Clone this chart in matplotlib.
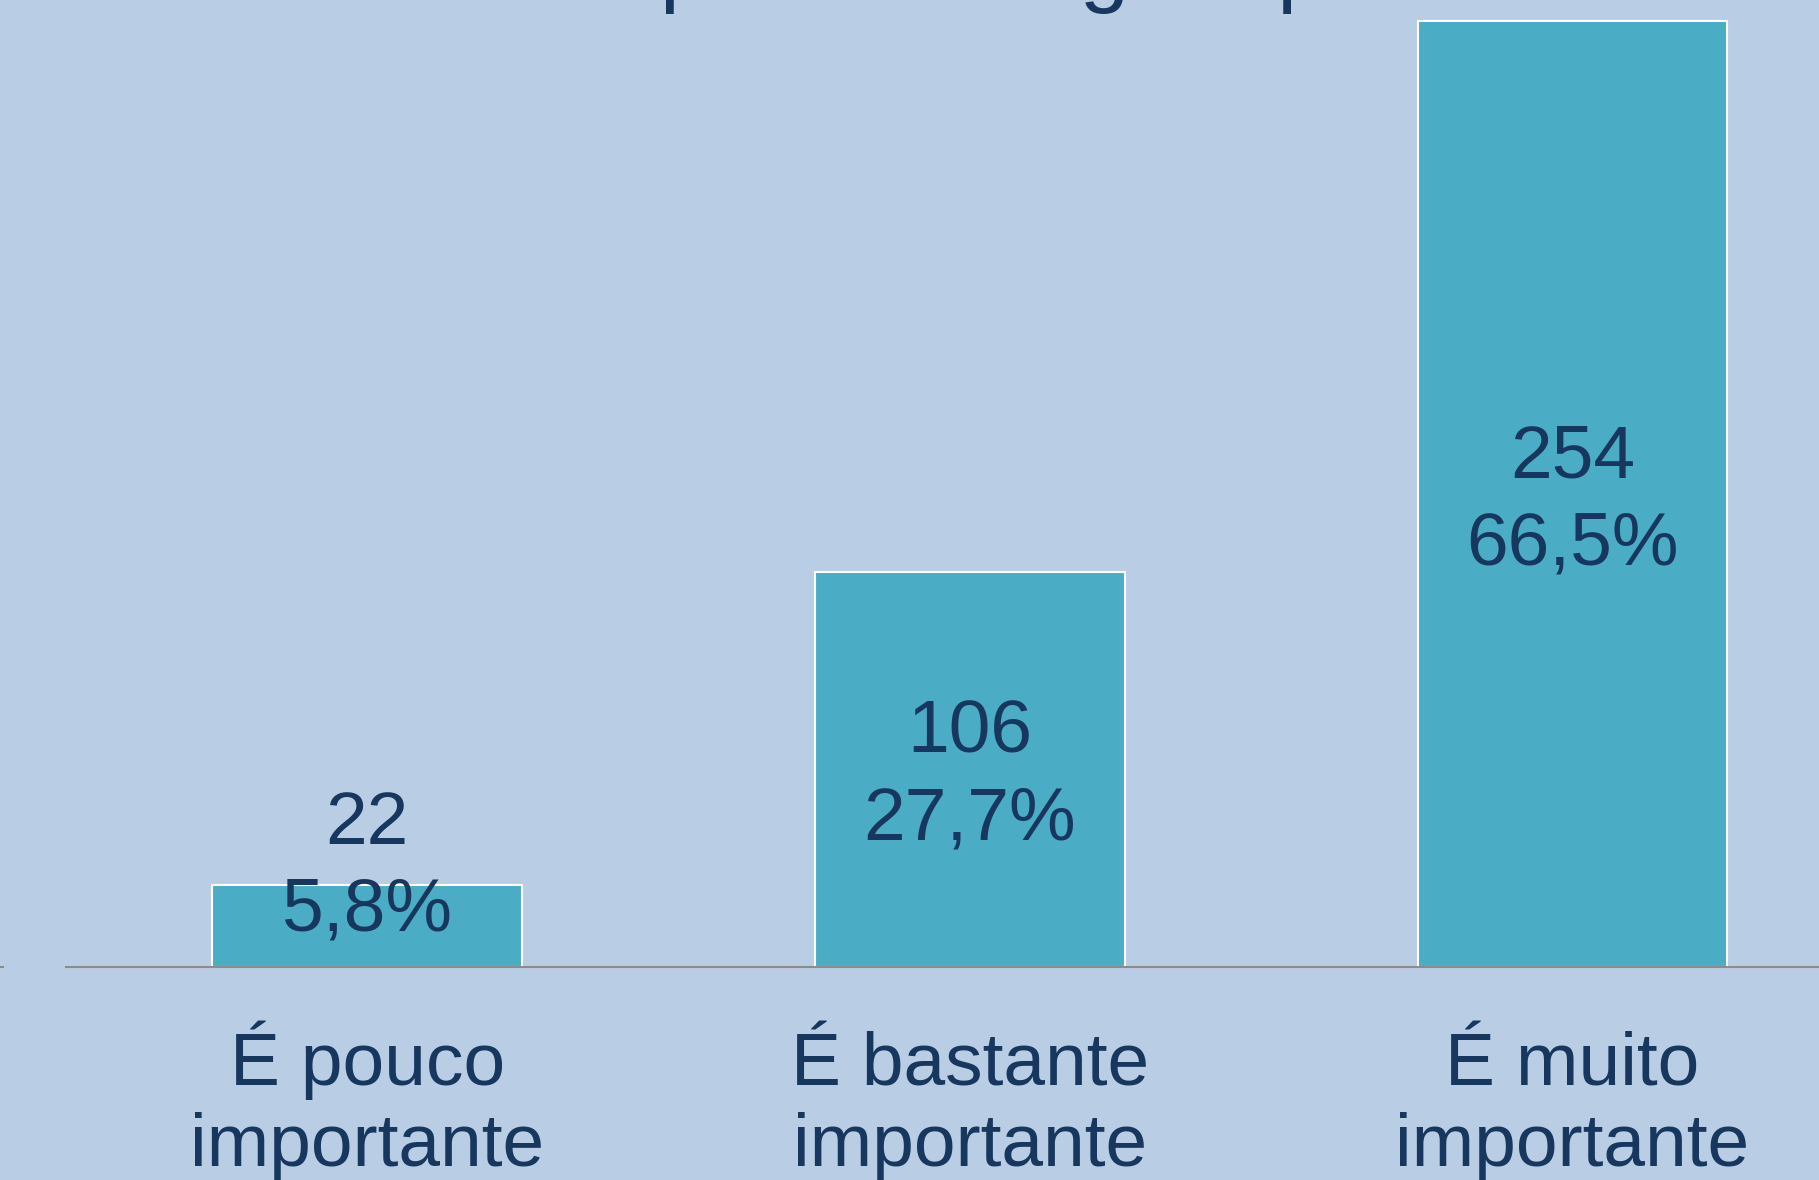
import matplotlib
matplotlib.use("Agg")
import matplotlib.pyplot as plt
from matplotlib.transforms import ScaledTranslation

categories = ["É pouco\nimportante", "É bastante\nimportante", "É muito\nimportante"]
counts = [22, 106, 254]
percents = ["5,8%", "27,7%", "66,5%"]
title = "Sorriso para a imagem pessoal"

BG = "#B9CDE5"
BAR = "#4BACC6"
TXT = "#17375E"

plt.rcParams['font.family'] = ['Liberation Sans', 'DejaVu Sans']

W, H = 1819, 1180
DPI = 100
fig = plt.figure(figsize=(W/DPI, H/DPI), dpi=DPI, facecolor=BG)
zero_px = 967
px_per_unit = 3.724
ymax = 262
ax_h = ymax * px_per_unit
ax = fig.add_axes([66/W, (H - zero_px)/H, 1 - 66/W, ax_h/H])
ax.set_facecolor(BG)
x = list(range(len(categories)))
ax.bar(x, counts, width=0.514, color=BAR, edgecolor="white", linewidth=1.5, zorder=2)
ax.set_xlim(-0.5, 2.409)
ax.set_ylim(0, ymax)
for s in ["top", "right", "left"]:
    ax.spines[s].set_visible(False)
ax.spines["bottom"].set_color("#8C8C8C")
ax.spines["bottom"].set_linewidth(1.5)
ax.set_yticks([])
ax.set_xticks(x)
ax.set_xticklabels([])
ax.tick_params(axis="x", length=0)

def px_offset(dy_px):
    # dy_px: pixels downward
    return ScaledTranslation(0, -dy_px / DPI, fig.dpi_scale_trans)

# category labels (two lines each), baselines below the axis line
line_baselines = [118, 199]
for xi, cat in zip(x, categories):
    for line, off in zip(cat.split("\n"), line_baselines):
        ax.text(xi, 0, line, ha="center", va="baseline", fontsize=54, color=TXT,
                transform=ax.get_xaxis_transform() + px_offset(off))

# value labels
min_center = 28.5
value_offsets = [-17, 70]
for xi, c, p in zip(x, counts, percents):
    yc = max(c / 2, min_center)
    for line, off in zip([str(c), p], value_offsets):
        ax.text(xi, yc, line, ha="center", va="baseline", fontsize=54, color=TXT,
                zorder=3, transform=ax.transData + px_offset(off))

fig.text(1584/W, 1 + 5/H, title, ha="right", va="baseline", fontsize=64, color=TXT)
# small tick mark at far left
fig.add_artist(plt.Line2D([0, 3/W], [(H - zero_px)/H]*2, color="#8C8C8C", lw=1.5))

fig.savefig("out.png", dpi=DPI, facecolor=BG)
